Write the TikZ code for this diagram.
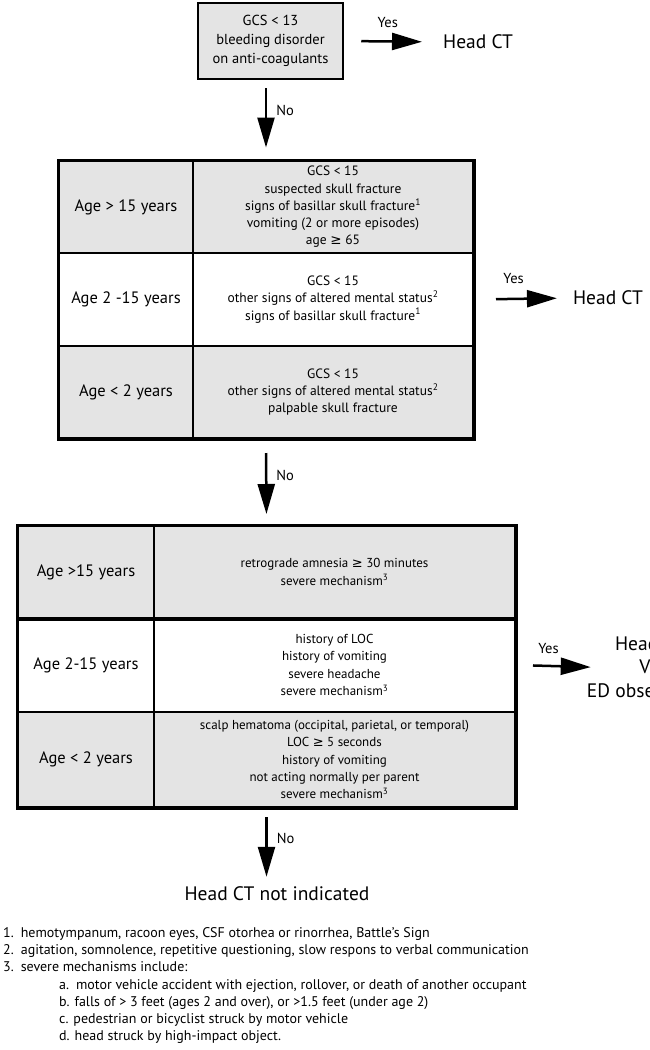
\documentclass[tikz,border=0pt]{standalone}
\usepackage{fontspec}
\setmainfont{PT Sans}
\newfontfamily\symfont{DejaVu Sans}
\usetikzlibrary{positioning, arrows.meta, fit}
\definecolor{cellgray}{HTML}{E4E4E4}
\newcommand{\geqsign}{{\symfont ≥}}

\tikzset{
  gatebox/.style={draw, line width=2.5pt, fill=cellgray, align=center, inner sep=0pt,
    minimum width=145pt, minimum height=76pt, font=\fontsize{14.5}{19}\selectfont},
  cell/.style={draw, line width=2pt, align=center, inner sep=0pt},
  graycell/.style={cell, fill=cellgray},
  whitecell/.style={cell, fill=white},
  agetext/.style={font=\fontsize{16.5}{18}\selectfont},
  crittext/.style={font=\fontsize{13.5}{17.2}\selectfont},
  lowtext/.style={font=\fontsize{13}{17.2}\selectfont},
  tableframe/.style={draw, line width=3pt, inner sep=0pt},
  flowarrow/.style={line width=2.5pt, -{Triangle[length=30pt, width=17pt]}},
  answer/.style={font=\fontsize{14.5}{16}\selectfont, inner sep=0pt},
  outcome/.style={font=\fontsize{19.5}{23.5}\selectfont, align=center, inner sep=0pt},
  notes/.style={font=\fontsize{14}{17.3}\selectfont, align=left, inner sep=0pt}
}

\begin{document}
\begin{tikzpicture}[x=1pt, y=-1pt]
  % Page
  \useasboundingbox (0,0) rectangle (650,1050);
  \clip (0,0) rectangle (650,1050);

  % First check
  \node[gatebox] (gate) at (270.5,41) {GCS < 13\\bleeding disorder\\on anti-coagulants};
  \node[outcome, anchor=west] (ct1) at (443,42) {Head CT};

  % Second check
  \node[graycell, agetext, minimum width=134pt, minimum height=92pt] (t2a1) at (126,207) {Age > 15 years};
  \node[graycell, crittext, minimum width=280pt, minimum height=92pt] (t2b1) at (333,207)
    {GCS < 15\\suspected skull fracture\\signs of basillar skull fracture\textsuperscript{1}\\vomiting (2 or more episodes)\\age \geqsign{} 65};
  \node[whitecell, agetext, minimum width=134pt, minimum height=93pt] (t2a2) at (126,299.5) {Age 2 -15 years};
  \node[whitecell, crittext, minimum width=280pt, minimum height=93pt] (t2b2) at (333,299.5)
    {GCS < 15\\other signs of altered mental status\textsuperscript{2}\\signs of basillar skull fracture\textsuperscript{1}};
  \node[graycell, agetext, minimum width=134pt, minimum height=92pt] (t2a3) at (126,392) {Age < 2 years};
  \node[graycell, crittext, minimum width=280pt, minimum height=92pt] (t2b3) at (333,392)
    {GCS < 15\\other signs of altered mental status\textsuperscript{2}\\palpable skull fracture};
  \node[tableframe, fit=(t2a1)(t2b3)] (tab2) {};
  \node[outcome] (ct2) at (608,298) {Head CT};

  % Third check
  \node[graycell, agetext, minimum width=136pt, minimum height=92pt] (t3a1) at (86,572) {Age >15 years};
  \node[graycell, lowtext, minimum width=361pt, minimum height=92pt] (t3b1) at (334.5,572)
    {retrograde amnesia \geqsign{} 30 minutes\\severe mechanism\textsuperscript{3}};
  \node[whitecell, agetext, minimum width=136pt, minimum height=94pt] (t3a2) at (86,665) {Age 2-15 years};
  \node[whitecell, lowtext, minimum width=361pt, minimum height=94pt] (t3b2) at (334.5,665)
    {history of LOC\\history of vomiting\\severe headache\\severe mechanism\textsuperscript{3}};
  \node[graycell, agetext, minimum width=136pt, minimum height=95pt] (t3a3) at (86,759.5) {Age < 2 years};
  \node[graycell, lowtext, minimum width=361pt, minimum height=95pt] (t3b3) at (334.5,759.5)
    {scalp hematoma (occipital, parietal, or temporal)\\LOC \geqsign{} 5 seconds\\history of vomiting\\not acting normally per parent\\severe mechanism\textsuperscript{3}};
  \node[tableframe, fit=(t3a1)(t3b3)] (tab3) {};
  \draw[line width=3.5pt] (t3a1.south west) -- (t3b1.south east);
  \node[outcome] (ct3) at (650,667) {Head CT\\VS\\ED observation};

  % Last outcome
  \node[outcome] (final) at (277,894) {Head CT not indicated};

  % Yes arrows
  \draw[flowarrow, shorten <=17pt, shorten >=21pt] (gate.east) -- (ct1.west)
    node[answer, pos=0.44, above=13pt] {Yes};
  \draw[flowarrow, shorten <=22pt, shorten >=16pt] (t2b2.east) -- (ct2.west)
    node[answer, pos=0.4, above=13.5pt] {Yes};
  \draw[flowarrow, shorten <=17pt, shorten >=-4pt] (t3b2.east) -- (ct3.west)
    node[answer, pos=0.46, above=11pt] {Yes};

  % No arrows
  \draw[flowarrow, shorten <=8pt, shorten >=11pt] (gate.south -| tab2.north) -- (tab2.north)
    node[answer, pos=0.38, right=9pt] {No};
  \draw[flowarrow, shorten <=12.5pt, shorten >=9.5pt] (tab2.south) -- (tab3.north)
    node[answer, pos=0.42, right=9pt] {No};
  \draw[flowarrow, shorten <=7.5pt, shorten >=10pt] (tab3.south) -- (final.north -| tab3.south)
    node[answer, pos=0.38, right=9pt] {No};

  % Footnotes
  \node[notes, anchor=north west] (notelist) at (3,927) {%
    1.\enspace hemotympanum, racoon eyes, CSF otorhea or rinorrhea, Battle's Sign\\
    2.\enspace agitation, somnolence, repetitive questioning, slow respons to verbal communication\\
    3.\enspace severe mechanisms include:\\
    \hspace*{56pt}a.\enspace motor vehicle accident with ejection, rollover, or death of another occupant\\
    \hspace*{56pt}b. falls of > 3 feet (ages 2 and over), or >1.5 feet (under age 2)\\
    \hspace*{56pt}c. pedestrian or bicyclist struck by motor vehicle\\
    \hspace*{56pt}d. head struck by high-impact object.};
\end{tikzpicture}
\end{document}
